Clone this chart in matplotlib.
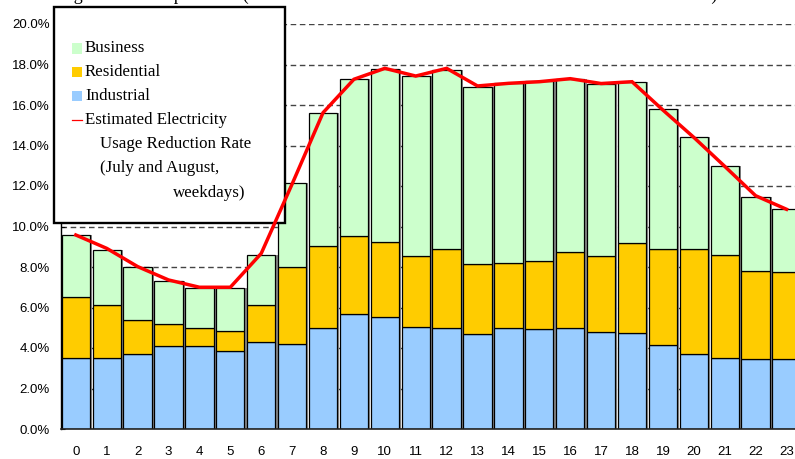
import matplotlib
matplotlib.use("Agg")
import matplotlib.pyplot as plt
from matplotlib.patches import Rectangle
from matplotlib.lines import Line2D
import numpy as np

hours = list(range(24))
industrial = [3.52, 3.52, 3.70, 4.10, 4.10, 3.87, 4.28, 4.21, 4.97, 5.66, 5.55, 5.02,
              4.97, 4.69, 4.97, 4.92, 4.97, 4.79, 4.72, 4.15, 3.69, 3.52, 3.46, 3.46]
residential = [3.01, 2.60, 1.68, 1.10, 0.87, 0.97, 1.84, 3.81, 4.07, 3.87, 3.67, 3.52,
               3.92, 3.44, 3.23, 3.39, 3.75, 3.75, 4.45, 4.72, 5.18, 5.07, 4.34, 4.28]
business = [3.05, 2.70, 2.60, 2.13, 2.01, 2.14, 2.49, 4.11, 6.55, 7.74, 8.54, 8.89,
            8.84, 8.77, 8.87, 8.88, 8.55, 8.48, 7.97, 6.93, 5.55, 4.40, 3.67, 3.11]
reduction_rate = [9.58, 8.92, 8.02, 7.36, 7.00, 7.00, 8.67, 12.10, 15.62, 17.27, 17.81, 17.43,
                  17.81, 16.94, 17.07, 17.15, 17.30, 17.06, 17.15, 15.75, 14.40, 12.97, 11.52, 10.85]
ytick_vals = [0, 2, 4, 6, 8, 10, 12, 14, 16, 18, 20]
ytick_labels = ["0.0%", "2.0%", "4.0%", "6.0%", "8.0%", "10.0%", "12.0%", "14.0%", "16.0%", "18.0%", "20.0%"]
legend_labels = ["Business", "Residential", "Industrial"]
line_label_lines = ["Estimated Electricity", "Usage Reduction Rate", "(July and August,", "weekdays)"]
title_text = "Average Reduction per Hour (Estimated Reduction Rates Relative to the Base Demand Levels)"

c_bus = "#CCFFCC"
c_res = "#FFCC00"
c_ind = "#99CCFF"

W, H = 795, 459
fig = plt.figure(figsize=(W / 100, H / 100), dpi=100)

ax_left, ax_bottom = 61 / W, (H - 429) / H
ax_w, ax_h = 741.6 / W, (429 - 24) / H
ax = fig.add_axes([ax_left, ax_bottom, ax_w, ax_h])

x = np.array(hours, dtype=float)
ind = np.array(industrial)
res = np.array(residential)
bus = np.array(business)
total = ind + res + bus
bw = 0.915

# shadow
ax.bar(x + 0.07, total, width=bw, color="#8a8a8a", linewidth=0, zorder=1.5)
ax.bar(x, ind, width=bw, color=c_ind, edgecolor="black", linewidth=0.9, zorder=2)
ax.bar(x, res, width=bw, bottom=ind, color=c_res, edgecolor="black", linewidth=0.9, zorder=2)
ax.bar(x, bus, width=bw, bottom=ind + res, color=c_bus, edgecolor="black", linewidth=0.9, zorder=2)

ax.plot(x, reduction_rate, color="#FF0000", linewidth=2.5, zorder=10, solid_joinstyle="miter")

ax.set_xlim(-0.48, 23.52)
ax.set_ylim(0, 20)
ax.set_yticks(ytick_vals)
ax.set_yticklabels(ytick_labels)
ax.set_xticks(x)
ax.set_xticklabels([str(h) for h in hours])
for v in ytick_vals[1:]:
    ax.axhline(v, color="#444444", linewidth=1.0, linestyle=(0, (4, 2.6)), zorder=0.5)

for s in ["top", "right"]:
    ax.spines[s].set_visible(False)
ax.spines["left"].set_linewidth(1.0)
ax.spines["bottom"].set_linewidth(1.2)
ax.spines["bottom"].set_color("#222222")
ax.tick_params(axis="y", direction="in", length=3, width=0.8, pad=8, labelsize=9.5)
ax.tick_params(axis="x", length=0, pad=12, labelsize=9.5)
for lab in ax.get_xticklabels() + ax.get_yticklabels():
    lab.set_fontfamily("Liberation Sans")
ax.set_facecolor("none")

# legend box (manual)
def fx(px):
    return px / W

def fy(py):
    return 1 - py / H

lg = Rectangle((fx(53.5), fy(222.5)), fx(285) - fx(53.5), fy(7) - fy(222.5),
               transform=fig.transFigure, facecolor="white", edgecolor="black",
               linewidth=1.7, zorder=5)
ax.add_patch(lg)
lg.set_clip_on(False)

serif = ["Liberation Serif", "DejaVu Serif"]
fs = 12.2
rows = [48.3, 72, 96]
cols = [c_bus, c_res, c_ind]
for yy, c, lab in zip(rows, cols, legend_labels):
    p = Rectangle((fx(71.7), fy(yy + 5.3)), fx(10.6), 10.6 / H, transform=fig.transFigure,
                  facecolor=c, edgecolor="none", zorder=6)
    ax.add_patch(p)
    p.set_clip_on(False)
    ax.text(fx(85), fy(yy), lab, transform=fig.transFigure, fontsize=fs, family=serif,
            va="center", ha="left", zorder=7)
ln = Line2D([fx(71.7), fx(82.3)], [fy(120), fy(120)], transform=fig.transFigure,
            color="#FF0000", linewidth=0.9, zorder=7)
ln.set_clip_on(False)
ax.add_line(ln)
line_pos = [(85, 120), (100, 144), (100, 168.3), (173.3, 192.7)]
for (px, py), s in zip(line_pos, line_label_lines):
    ax.text(fx(px), fy(py), s, transform=fig.transFigure, fontsize=fs, family=serif,
            va="center", ha="left", zorder=7)

fig.text(fx(31), fy(0.3), title_text, fontsize=13, family=serif, va="baseline", ha="left")

fig.savefig("out.png", dpi=100)
